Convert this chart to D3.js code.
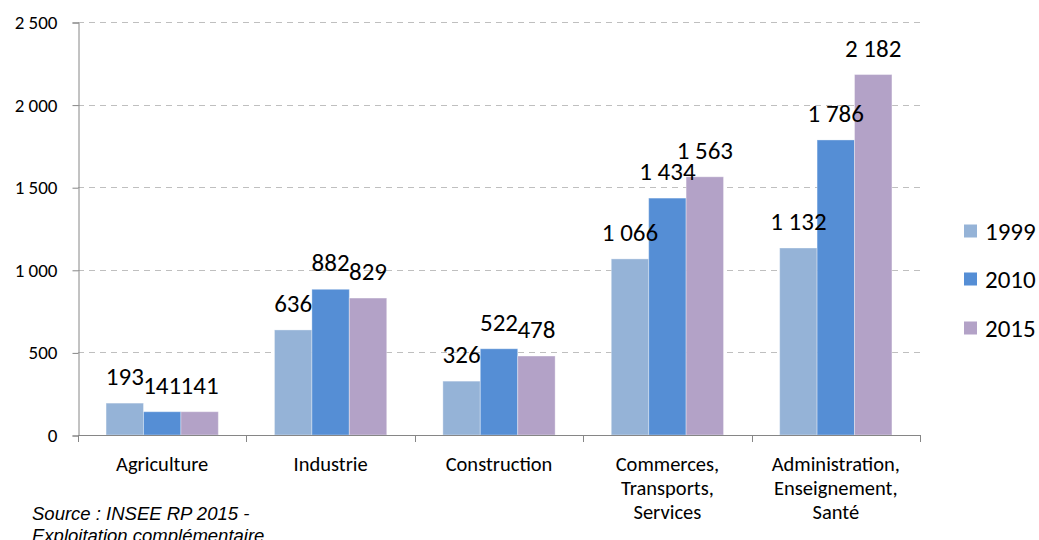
<!DOCTYPE html>
<html>
<head>
<meta charset="utf-8">
<script src="https://cdn.jsdelivr.net/npm/d3@7"></script>
<style>
  html, body { margin: 0; padding: 0; background: #fff; }
  svg { display: block; }
</style>
</head>
<body>
<svg id="chart" width="1039" height="540"></svg>
<script>
const categories = [
  ["Agriculture"],
  ["Industrie"],
  ["Construction"],
  ["Commerces,", "Transports,", "Services"],
  ["Administration,", "Enseignement,", "Santé"]
];
const seriesNames = ["1999", "2010", "2015"];
const values1999 = [193, 636, 326, 1066, 1132];
const values2010 = [141, 882, 522, 1434, 1786];
const values2015 = [141, 829, 478, 1563, 2182];
const yTicks = [0, 500, 1000, 1500, 2000, 2500];
const colors = ["#95B3D7", "#558ED5", "#B3A2C7"];
const sourceLines = ["Source : INSEE RP 2015 -", "Exploitation complémentaire"];

(function () {
const series = [values1999, values2010, values2015];
const fmt = v => d3.format(",")(v).replace(/,/g, " ");

const svg = d3.select("#chart");
const font = "Carlito, Calibri, 'Open Sans', sans-serif";

const pLeft = 78, pRight = 920, pTop = 22, pBottom = 435;

const x0 = d3.scaleBand()
  .domain(d3.range(categories.length))
  .range([pLeft, pRight])
  .paddingInner(1/3)
  .paddingOuter(1/6);
const x1 = d3.scaleBand()
  .domain(d3.range(seriesNames.length))
  .range([0, x0.bandwidth()]);
const y = d3.scaleLinear().domain([0, 2500]).range([pBottom, pTop]);

// gridlines
svg.append("g").selectAll("line")
  .data(yTicks.filter(t => t > 0))
  .join("line")
  .attr("x1", pLeft).attr("x2", pRight)
  .attr("y1", d => Math.round(y(d)) + 0.5).attr("y2", d => Math.round(y(d)) + 0.5)
  .attr("stroke", "#BFBFBF").attr("stroke-width", 1)
  .attr("stroke-dasharray", "6,5");

// y axis
const yAxis = d3.axisLeft(y).tickValues(yTicks).tickFormat(fmt).tickSize(6).tickPadding(15);
const gy = svg.append("g").attr("transform", `translate(${pLeft + 0.5},0.5)`).call(yAxis);
gy.select(".domain").attr("stroke", "#868686");
gy.selectAll(".tick line").attr("stroke", "#868686");
gy.selectAll(".tick text").attr("font-family", font).attr("font-size", 19).attr("fill", "#000");

// bars
const groups = svg.append("g").selectAll("g")
  .data(categories.map((c, i) => i))
  .join("g")
  .attr("transform", i => `translate(${x0(i)},0)`);

groups.selectAll("rect")
  .data(i => series.map((s, k) => ({k, v: s[i]})))
  .join("rect")
  .attr("x", d => x1(d.k))
  .attr("width", x1.bandwidth())
  .attr("y", d => y(d.v))
  .attr("height", d => pBottom - y(d.v))
  .attr("fill", d => colors[d.k])
  .attr("stroke", "rgba(255,255,255,0.35)")
  .attr("stroke-width", 1);

// x axis line and ticks
const boundaries = d3.range(categories.length + 1).map(i => pLeft + i * x0.step());
svg.append("line")
  .attr("x1", pLeft).attr("x2", pRight)
  .attr("y1", pBottom + 0.5).attr("y2", pBottom + 0.5)
  .attr("stroke", "#868686");
svg.append("g").selectAll("line")
  .data(boundaries)
  .join("line")
  .attr("x1", d => Math.round(d) + 0.5).attr("x2", d => Math.round(d) + 0.5)
  .attr("y1", pBottom).attr("y2", pBottom + 7)
  .attr("stroke", "#868686");

// data labels
groups.selectAll("text.lbl")
  .data(i => series.map((s, k) => ({k, v: s[i]})))
  .join("text")
  .attr("class", "lbl")
  .attr("x", d => x1(d.k) + x1.bandwidth() / 2)
  .attr("y", d => y(d.v) - 18)
  .attr("text-anchor", "middle")
  .attr("font-family", font)
  .attr("font-size", 25)
  .attr("fill", "#000")
  .text(d => fmt(d.v));

// category labels
svg.append("g").selectAll("text")
  .data(categories)
  .join("text")
  .attr("transform", (c, i) => `translate(${x0(i) + x0.bandwidth() / 2},471)`)
  .attr("text-anchor", "middle")
  .attr("font-family", font)
  .attr("font-size", 20.5)
  .attr("fill", "#000")
  .selectAll("tspan")
  .data(c => c)
  .join("tspan")
  .attr("x", 0)
  .attr("y", (d, j) => j * 24)
  .text(d => d);

// legend
const legendY = [231.5, 279.5, 328.5];
const lg = svg.append("g").selectAll("g")
  .data(seriesNames)
  .join("g")
  .attr("transform", (d, k) => `translate(964,${legendY[k]})`);
lg.append("rect")
  .attr("x", 0).attr("y", -7).attr("width", 13).attr("height", 13)
  .attr("fill", (d, k) => colors[k]);
lg.append("text")
  .attr("x", 21).attr("y", 8.5)
  .attr("font-family", font)
  .attr("font-size", 25)
  .attr("fill", "#000")
  .text(d => d);

// source
svg.append("text")
  .attr("font-family", "'Liberation Sans', Arial, sans-serif")
  .attr("font-style", "italic")
  .attr("font-size", 18.5)
  .attr("fill", "#000")
  .selectAll("tspan")
  .data(sourceLines)
  .join("tspan")
  .attr("x", 32)
  .attr("y", (d, j) => 520 + j * 22)
  .text(d => d);
})();
</script>
</body>
</html>
